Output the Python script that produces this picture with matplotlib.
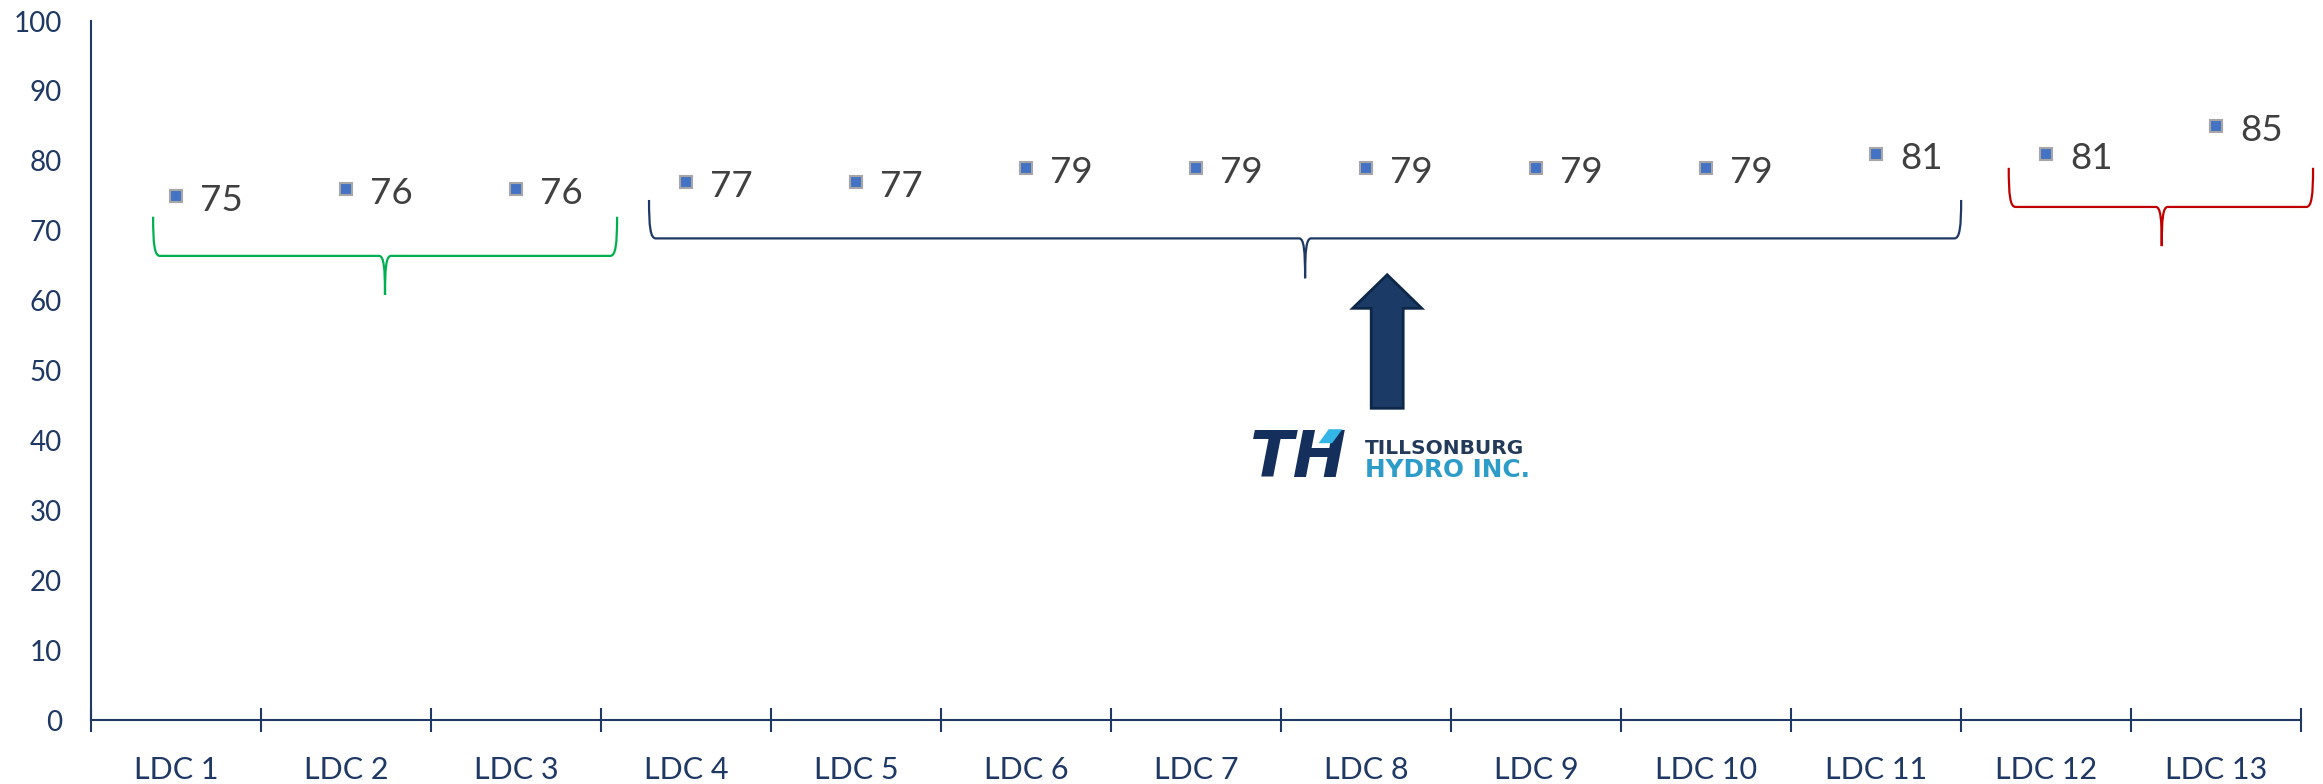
"""Satisfaction scores by LDC with group braces and Tillsonburg Hydro callout."""

import matplotlib

matplotlib.use("Agg")
import matplotlib.pyplot as plt
from matplotlib.path import Path
from matplotlib.patches import PathPatch, Polygon

# chart data
categories = [f"LDC {i}" for i in range(1, 14)]
scores = [75, 76, 76, 77, 77, 79, 79, 79, 79, 79, 81, 81, 85]
y_ticks = list(range(0, 101, 10))

NAVY = "#1F3864"
LABEL_GREY = "#404040"
MARKER_BLUE = "#4472C4"

plt.rcParams["font.family"] = ["Lato", "DejaVu Sans"]


def draw_brace(ax, x0, x1, xm, ytop, yh, ytip, color):
    """Curly brace opening up, with the cusp pointing down."""
    rx = 0.04
    cx = 0.035
    k_end = yh + (ytop - yh) * 0.3
    k_mid = yh - (yh - ytip) * 0.3
    verts = [
        (x0, ytop),
        (x0, k_end), (x0 + rx * 0.2, yh), (x0 + rx, yh),
        (xm - cx, yh),
        (xm - cx * 0.2, yh), (xm, k_mid), (xm, ytip),
        (xm, k_mid), (xm + cx * 0.2, yh), (xm + cx, yh),
        (x1 - rx, yh),
        (x1 - rx * 0.2, yh), (x1, k_end), (x1, ytop),
    ]
    codes = [Path.MOVETO] + [Path.CURVE4] * 3 + [Path.LINETO] + [Path.CURVE4] * 6 \
        + [Path.LINETO] + [Path.CURVE4] * 3
    ax.add_patch(PathPatch(Path(verts, codes), facecolor="none", edgecolor=color,
                           lw=1.6, clip_on=False))


fig = plt.figure(figsize=(23.23, 7.84), dpi=100)
ax = fig.add_axes([0.0392, 0.0816, 0.9514, 0.8916])

x = list(range(len(categories)))
ax.plot(x, scores, linestyle="none", marker="s", markersize=9,
        markerfacecolor=MARKER_BLUE, markeredgecolor="#A6A6A6", markeredgewidth=1.5,
        zorder=3)
for xi, v in zip(x, scores):
    ax.annotate(str(v), (xi, v), xytext=(17, -3.5), textcoords="offset points",
                ha="left", va="center", fontsize=26.5, color=LABEL_GREY)

ax.set_xlim(-0.5, len(categories) - 0.5)
ax.set_ylim(0, 100)
ax.set_yticks(y_ticks)
ax.set_yticklabels([str(t) for t in y_ticks])
ax.set_xticks(x)
ax.set_xticklabels(categories)
ax.set_xticks([i - 0.5 for i in range(len(categories) + 1)], minor=True)

ax.tick_params(axis="y", length=0, pad=21, labelsize=20, labelcolor=NAVY)
ax.tick_params(axis="x", which="major", length=0, pad=26, labelsize=22, labelcolor=NAVY)
ax.tick_params(axis="x", which="minor", direction="inout", length=17, width=1.5,
               color=NAVY)

for side in ("top", "right"):
    ax.spines[side].set_visible(False)
for side in ("left", "bottom"):
    ax.spines[side].set_color(NAVY)
    ax.spines[side].set_linewidth(1.5)

# group braces
draw_brace(ax, -0.135, 2.594, 1.229, 72.0, 66.4, 60.8, "#00B050")
draw_brace(ax, 2.782, 10.50, 6.641, 74.4, 68.9, 63.2, NAVY)
draw_brace(ax, 10.78, 12.57, 11.68, 79.0, 73.4, 67.8, "#C00000")

# block arrow pointing at the navy group
ax_c, head_w, shaft_w = 7.124, 0.203, 0.094
tip_y, head_y, base_y = 63.7, 58.9, 44.6
arrow = Polygon([
    (ax_c - shaft_w, base_y), (ax_c - shaft_w, head_y), (ax_c - head_w, head_y),
    (ax_c, tip_y), (ax_c + head_w, head_y), (ax_c + shaft_w, head_y),
    (ax_c + shaft_w, base_y)],
    closed=True, facecolor="#1B3A66", edgecolor="#0D2748", lw=2, zorder=4)
ax.add_patch(arrow)

# Tillsonburg Hydro logo
ax.text(6.60, 37.4, "TH", ha="center", va="center", fontsize=46,
        fontweight="heavy", style="italic", family="DejaVu Sans", color="#142F5C")
ax.add_patch(Polygon([(6.78, 41.6), (6.86, 41.6), (6.80, 39.6), (6.72, 39.6)],
                     closed=True, facecolor="#33B5E5", edgecolor="none", zorder=5))
ax.text(6.994, 38.9, "TILLSONBURG", ha="left", va="center", fontsize=14.5,
        fontweight="bold", family="DejaVu Sans", color="#233A5A")
ax.text(6.994, 35.7, "HYDRO INC.", ha="left", va="center", fontsize=17.8,
        fontweight="bold", family="DejaVu Sans", color="#2E9CC8")

fig.savefig("out.png", dpi=100)
plt.close(fig)
